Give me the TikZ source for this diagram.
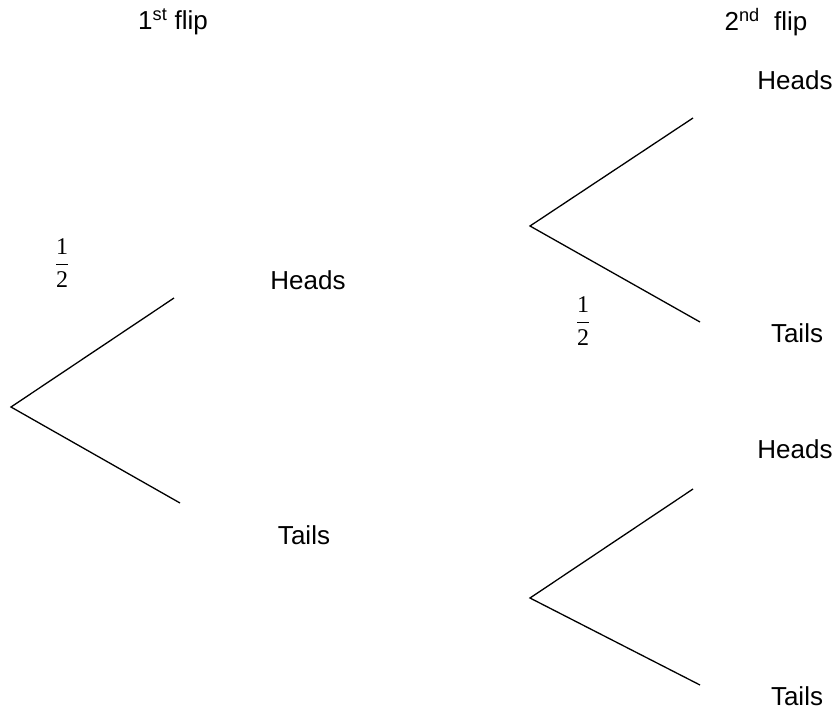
\documentclass[tikz,border=0pt]{standalone}
\usepackage{fontspec}
\setmainfont{Liberation Sans}
\newfontfamily\fracfont{Liberation Serif}
\usepackage{amsmath}
\usepackage{graphicx}
\newcommand{\halffrac}{\scalebox{2.4}{$\dfrac{\hbox{\fracfont 1}}{\hbox{\fracfont 2}}$}}
\begin{document}
\begin{tikzpicture}[x=1pt,y=-1pt,
  lbl/.style={inner sep=0pt,font=\fontsize{26}{30}\selectfont},
  frc/.style={inner sep=0pt},
  branch/.style={line width=1.3pt}]
\useasboundingbox (0,0) rectangle (840,710);
% headers
\node[lbl] (h1) at (173,22) {1\textsuperscript{st} flip};
\node[lbl] (h2) at (766,22) {2\textsuperscript{nd}\ \ flip};
% tree 1
\coordinate (r1) at (11,407);
\coordinate (a1) at (174,298);
\coordinate (b1) at (180,503);
\draw[branch] (a1) -- (r1) -- (b1);
\node[lbl] (H1) at (308,280) {Heads};
\node[lbl] (T1) at (304,535) {Tails};
\node[frc] (f1) at (62,263) {\halffrac};
% tree 2
\coordinate (r2) at (530,226);
\coordinate (a2) at (693,118);
\coordinate (b2) at (700,322);
\draw[branch] (a2) -- (r2) -- (b2);
\node[lbl] (H2) at (795,80) {Heads};
\node[lbl] (T2) at (797,333) {Tails};
\node[frc] (f2) at (583,321) {\halffrac};
% tree 3
\coordinate (r3) at (530,598);
\coordinate (a3) at (693,489);
\coordinate (b3) at (700,685);
\draw[branch] (a3) -- (r3) -- (b3);
\node[lbl] (H3) at (795,449) {Heads};
\node[lbl] (T3) at (797,696) {Tails};
\end{tikzpicture}
\end{document}
